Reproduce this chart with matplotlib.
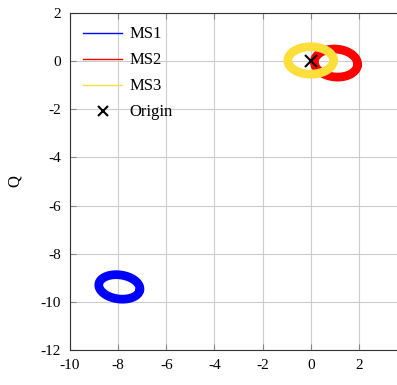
import matplotlib.pyplot as plt
import numpy as np
from matplotlib.lines import Line2D

plt.rcParams['font.family'] = ['Liberation Serif', 'DejaVu Serif']
plt.rcParams['axes.unicode_minus'] = False

# ring data: centre, radii, tilt (deg)
labels = ['MS1', 'MS2', 'MS3']
colors = ['#0000ff', '#ff0000', '#ffdd3a']
centre_i = [-7.95, 1.05, 0.0]
centre_q = [-9.38, -0.08, 0.03]
radius_i = [0.86, 0.9, 0.95]
radius_q = [0.5, 0.58, 0.57]
tilt = [-8, -5, 0]

xticks = [-10, -8, -6, -4, -2, 0, 2]
yticks = [-12, -10, -8, -6, -4, -2, 0, 2]

fig = plt.figure(figsize=(3.97, 3.85), dpi=100)
ax = fig.add_axes([70 / 397, 35 / 385, 337 / 397, 337 / 385])

t = np.linspace(0, 2 * np.pi, 200)
for lab, c, ci, cq, ri, rq, a in zip(labels, colors, centre_i, centre_q,
                                     radius_i, radius_q, tilt):
    a = np.deg2rad(a)
    x = ri * np.cos(t)
    y = rq * np.sin(t)
    xs = ci + x * np.cos(a) - y * np.sin(a)
    ys = cq + x * np.sin(a) + y * np.cos(a)
    ax.plot(xs, ys, color=c, lw=6.3, solid_capstyle='round')

ax.plot([0], [0], 'kx', ms=8, mew=1.5)

# legend handles drawn thin like the reference
handles = [Line2D([], [], color=c, lw=1.0) for c in colors]
handles.append(Line2D([], [], color='k', marker='x', ls='none', ms=7, mew=1.5))
ax.legend(handles, labels + ['Origin'], loc='upper left', frameon=False,
          fontsize=12, handlelength=2.3, labelspacing=0.6,
          borderaxespad=0.4, handletextpad=0.45)

ax.set_xlim(-10, 4)
ax.set_ylim(-12, 2)
ax.set_xticks(xticks)
ax.set_yticks(yticks)
ax.grid(True, color='#cccccc', lw=0.8)
ax.set_axisbelow(True)
ax.tick_params(direction='in', top=True, right=True, labelsize=11, length=4,
               color='#888888', pad=6.5)
ax.set_ylabel('Q', fontsize=12, labelpad=13)
for s in ax.spines.values():
    s.set_color('#333333')
    s.set_linewidth(0.8)

plt.savefig('out.png', dpi=100)
